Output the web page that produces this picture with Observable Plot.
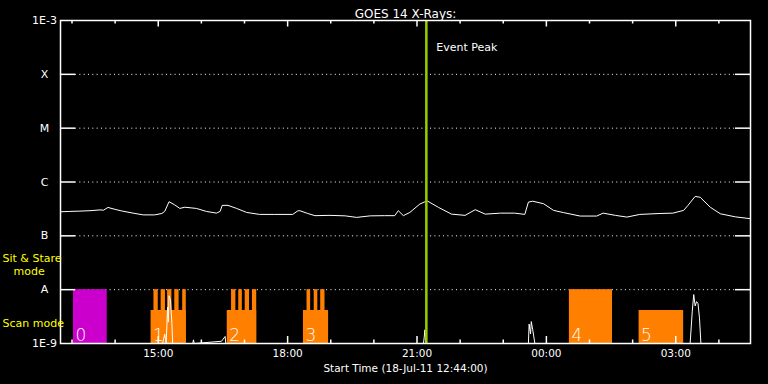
<!DOCTYPE html>
<html>
<head>
<meta charset="utf-8">
<script src="https://cdn.jsdelivr.net/npm/d3@7"></script>
<script src="https://cdn.jsdelivr.net/npm/@observablehq/plot@0.6"></script>
<style>
html, body { margin: 0; padding: 0; background: #000; }
#chart { width: 768px; height: 384px; }
</style>
</head>
<body>
<div id="chart"></div>
<script>
// ---------- DATA ----------
const titleText = "GOES 14 X-Rays:";
const xAxisTitle = "Start Time (18-Jul-11 12:44:00)";
const xStart = "2011-07-18T12:44";
const xEnd = "2011-07-19T04:44";

// Long channel (1-8 Å) flux, W/m^2
const fluxTime = [
  "2011-07-18T12:44","2011-07-18T12:57","2011-07-18T13:11","2011-07-18T13:25","2011-07-18T13:39",
  "2011-07-18T13:44","2011-07-18T13:50","2011-07-18T14:00","2011-07-18T14:09","2011-07-18T14:25",
  "2011-07-18T14:39","2011-07-18T14:55","2011-07-18T15:05","2011-07-18T15:09","2011-07-18T15:15",
  "2011-07-18T15:23","2011-07-18T15:30","2011-07-18T15:37","2011-07-18T15:53","2011-07-18T16:07",
  "2011-07-18T16:21","2011-07-18T16:26","2011-07-18T16:29","2011-07-18T16:37","2011-07-18T16:49",
  "2011-07-18T17:03","2011-07-18T17:21","2011-07-18T17:42","2011-07-18T18:07","2011-07-18T18:14",
  "2011-07-18T18:17","2011-07-18T18:28","2011-07-18T18:38","2011-07-18T18:59","2011-07-18T19:20",
  "2011-07-18T19:36","2011-07-18T19:55","2011-07-18T20:15","2011-07-18T20:29","2011-07-18T20:34",
  "2011-07-18T20:41","2011-07-18T20:50","2011-07-18T21:04","2011-07-18T21:14","2011-07-18T21:30",
  "2011-07-18T21:48","2011-07-18T22:07","2011-07-18T22:21","2011-07-18T22:35","2011-07-18T22:56",
  "2011-07-18T23:16","2011-07-18T23:30","2011-07-18T23:35","2011-07-18T23:41","2011-07-18T23:56",
  "2011-07-19T00:10","2011-07-19T00:24","2011-07-19T00:47","2011-07-19T01:10","2011-07-19T01:19",
  "2011-07-19T01:36","2011-07-19T01:52","2011-07-19T02:10","2011-07-19T02:38","2011-07-19T02:56",
  "2011-07-19T03:11","2011-07-19T03:17","2011-07-19T03:27","2011-07-19T03:34","2011-07-19T03:48",
  "2011-07-19T04:02","2011-07-19T04:23","2011-07-19T04:44"
];
const fluxValue = [
  2.80e-7,2.84e-7,2.88e-7,2.93e-7,3.03e-7,
  3.00e-7,3.37e-7,3.10e-7,2.90e-7,2.64e-7,
  2.45e-7,2.45e-7,2.60e-7,2.84e-7,4.30e-7,
  3.75e-7,3.23e-7,3.40e-7,3.23e-7,2.84e-7,
  2.64e-7,2.84e-7,3.68e-7,3.68e-7,3.23e-7,
  2.72e-7,2.50e-7,2.50e-7,2.50e-7,2.90e-7,
  2.93e-7,2.60e-7,2.37e-7,2.40e-7,2.35e-7,
  2.20e-7,2.35e-7,2.37e-7,2.37e-7,2.93e-7,
  2.37e-7,2.72e-7,3.90e-7,4.47e-7,3.37e-7,
  2.53e-7,2.40e-7,3.06e-7,2.53e-7,2.64e-7,
  2.64e-7,2.50e-7,4.23e-7,4.40e-7,3.95e-7,
  2.97e-7,2.70e-7,2.33e-7,2.33e-7,2.64e-7,
  2.40e-7,2.23e-7,2.50e-7,2.60e-7,2.64e-7,
  2.97e-7,3.68e-7,5.40e-7,5.20e-7,3.40e-7,
  2.57e-7,2.25e-7,2.08e-7
];

// Short channel (0.5-4 Å) flux, floor at 1E-9
const lowTime = [
  "2011-07-18T12:44","2011-07-18T15:06","2011-07-18T15:09","2011-07-18T15:11","2011-07-18T15:13",
  "2011-07-18T15:14","2011-07-18T15:15","2011-07-18T15:17","2011-07-18T15:19","2011-07-18T15:20",
  "2011-07-18T15:48","2011-07-18T15:49","2011-07-18T15:50","2011-07-18T16:28","2011-07-18T16:33",
  "2011-07-18T16:34","2011-07-18T21:09","2011-07-18T21:10","2011-07-18T21:11","2011-07-18T21:12",
  "2011-07-18T23:35","2011-07-18T23:36","2011-07-18T23:38","2011-07-18T23:39","2011-07-18T23:41",
  "2011-07-18T23:44","2011-07-19T03:20","2011-07-19T03:23","2011-07-19T03:25","2011-07-19T03:27",
  "2011-07-19T03:29","2011-07-19T03:31","2011-07-19T03:33","2011-07-19T03:35","2011-07-19T04:44"
];
const lowValue = [
  1e-9,1e-9,1.5e-9,1e-9,4.7e-9,
  2.5e-9,7.7e-9,6.5e-9,2.35e-9,1e-9,
  1e-9,1.17e-9,1e-9,1.1e-9,1.35e-9,
  1e-9,1e-9,1.3e-9,1.8e-9,1e-9,
  1e-9,2.3e-9,1.5e-9,2.55e-9,1.8e-9,
  1e-9,1e-9,4e-9,8.1e-9,5e-9,
  6e-9,5.5e-9,3e-9,1e-9,1e-9
];

// Observation mode intervals
const modeGroup = [0, 1,1,1,1,1,1, 2,2,2,2,2, 3,3,3,3, 4, 5];
const modeStart = [
  "2011-07-18T13:02",
  "2011-07-18T14:50","2011-07-18T14:54","2011-07-18T15:04","2011-07-18T15:13","2011-07-18T15:23","2011-07-18T15:34",
  "2011-07-18T16:36","2011-07-18T16:42","2011-07-18T16:52","2011-07-18T17:01","2011-07-18T17:11",
  "2011-07-18T18:22","2011-07-18T18:27","2011-07-18T18:37","2011-07-18T18:46",
  "2011-07-19T00:32",
  "2011-07-19T02:09"
];
const modeEnd = [
  "2011-07-18T13:49",
  "2011-07-18T15:39","2011-07-18T15:00","2011-07-18T15:10","2011-07-18T15:19","2011-07-18T15:29","2011-07-18T15:39",
  "2011-07-18T17:17","2011-07-18T16:48","2011-07-18T16:57","2011-07-18T17:07","2011-07-18T17:17",
  "2011-07-18T18:57","2011-07-18T18:32","2011-07-18T18:42","2011-07-18T18:52",
  "2011-07-19T01:32",
  "2011-07-19T03:11"
];
const modeType = [
  "stare",
  "scan","stare","stare","stare","stare","stare",
  "scan","stare","stare","stare","stare",
  "scan","stare","stare","stare",
  "stare",
  "scan"
];
const modeNames = ["stare", "scan"];
const modeTops = [1e-8, 4.1e-9];
const modeLabels = ["Sit & Stare", "mode", "Scan mode"];

const eventPeak = "2011-07-18T21:13";
const eventLabel = "Event Peak";

const yTickValues = [1e-9, 1e-8, 1e-7, 1e-6, 1e-5, 1e-4, 1e-3];
const yTickLabels = ["1E-9", "A", "B", "C", "M", "X", "1E-3"];
const gridValues = [1e-8, 1e-7, 1e-6, 1e-5, 1e-4];

// ---------- BUILD ----------
const T = s => new Date(s + ":00Z");
const W = 768, H = 384;
const mL = 60, mR = 18, mT = 20, mB = 41;
const fw = W - mL - mR, fh = H - mT - mB;

const flux = fluxTime.map((t, i) => ({t: T(t), v: fluxValue[i]}));
const low = lowTime.map((t, i) => ({t: T(t), v: lowValue[i]}));
const modes = modeStart.map((s, i) => ({
  start: T(s), end: T(modeEnd[i]), group: modeGroup[i],
  top: modeTops[modeNames.indexOf(modeType[i])]
}));
const groupLabels = [];
modes.forEach(d => { if (!groupLabels.find(g => g.group === d.group)) groupLabels.push({group: d.group, t: d.start}); });

const majorTicks = d3.utcHour.every(3).range(T(xStart), T(xEnd));
const minorTicks = d3.utcHour.every(1).range(T(xStart), T(xEnd)).filter(d => d.getUTCHours() % 3 !== 0);
const yLabelMap = new Map(yTickValues.map((v, i) => [v, yTickLabels[i]]));

const font = "DejaVu Sans, sans-serif";

const chart = Plot.plot({
  width: W, height: H,
  marginLeft: mL, marginRight: mR, marginTop: mT, marginBottom: mB,
  style: {background: "black", color: "white", fontFamily: font, fontSize: "10px", overflow: "visible"},
  x: {type: "utc", domain: [T(xStart), T(xEnd)], label: null},
  y: {type: "log", domain: [1e-9, 1e-3], label: null},
  color: {type: "identity"},
  marks: [
    // dotted grid
    Plot.ruleY(gridValues, {stroke: "white", strokeWidth: 1, strokeDasharray: "1,3.33", insetLeft: 15, insetRight: 15}),
    // mode bars
    Plot.rect(modes, {x1: "start", x2: "end", y1: 1e-9, y2: "top", fill: d => d.group === 0 ? "#cc00cc" : "#ff8000"}),
    // group numbers
    Plot.text(groupLabels, {x: "t", text: d => String(d.group), frameAnchor: "bottom", textAnchor: "start", lineAnchor: "bottom", dx: 2, dy: -3, fill: "white", fontSize: 17, fontWeight: 300}),
    // flux curves
    Plot.line(flux, {x: "t", y: "v", stroke: "white", strokeWidth: 1}),
    Plot.line(low, {x: "t", y: "v", stroke: "white", strokeWidth: 1}),
    // event peak
    Plot.ruleX([{t: T(eventPeak)}], {x: "t", stroke: "#99cc00", strokeWidth: 2.5}),
    Plot.text([{t: T(eventPeak), label: eventLabel}], {x: "t", text: "label", frameAnchor: "top", textAnchor: "start", dx: 10, dy: 23, fill: "white", fontSize: 11}),
    // frame
    Plot.frame({stroke: "white", strokeWidth: 1.5}),
    // y ticks (long, inward both sides)
    Plot.tickY(gridValues, {y: d => d, stroke: "white", strokeWidth: 1.5, insetRight: fw - 15}),
    Plot.tickY(gridValues, {y: d => d, stroke: "white", strokeWidth: 1.5, insetLeft: fw - 15}),
    // x ticks bottom / top
    Plot.tickX(majorTicks, {x: d => d, stroke: "white", strokeWidth: 1.5, insetTop: fh - 7}),
    Plot.tickX(minorTicks, {x: d => d, stroke: "white", strokeWidth: 1.5, insetTop: fh - 3.5}),
    Plot.tickX(majorTicks, {x: d => d, stroke: "white", strokeWidth: 1.5, insetBottom: fh - 6.5}),
    Plot.tickX(minorTicks, {x: d => d, stroke: "white", strokeWidth: 1.5, insetBottom: fh - 3.5}),
    // axes labels
    Plot.axisY({ticks: yTickValues, tickFormat: d => yLabelMap.get(d), tickSize: 0, tickPadding: 16, textAnchor: "middle", fontSize: 11, label: null}),
    Plot.axisX({ticks: majorTicks, tickFormat: d3.utcFormat("%H:%M"), tickSize: 0, tickPadding: 6, fontSize: 10.5, label: null}),
    // title & x-axis title
    Plot.text([titleText], {frameAnchor: "top", dy: -11, fill: "white", fontSize: 12}),
    Plot.text([xAxisTitle], {frameAnchor: "bottom", dy: 28, fill: "white", fontSize: 10.5}),
    // mode labels (yellow)
    Plot.text([modeLabels[0]], {frameAnchor: "bottom-left", textAnchor: "start", dx: -58, dy: -82, fill: "#ffff00", fontSize: 11}),
    Plot.text([modeLabels[1]], {frameAnchor: "bottom-left", textAnchor: "start", dx: -47, dy: -69, fill: "#ffff00", fontSize: 11}),
    Plot.text([modeLabels[2]], {frameAnchor: "bottom-left", textAnchor: "start", dx: -58, dy: -17, fill: "#ffff00", fontSize: 11})
  ]
});
document.getElementById("chart").appendChild(chart);
</script>
</body>
</html>
